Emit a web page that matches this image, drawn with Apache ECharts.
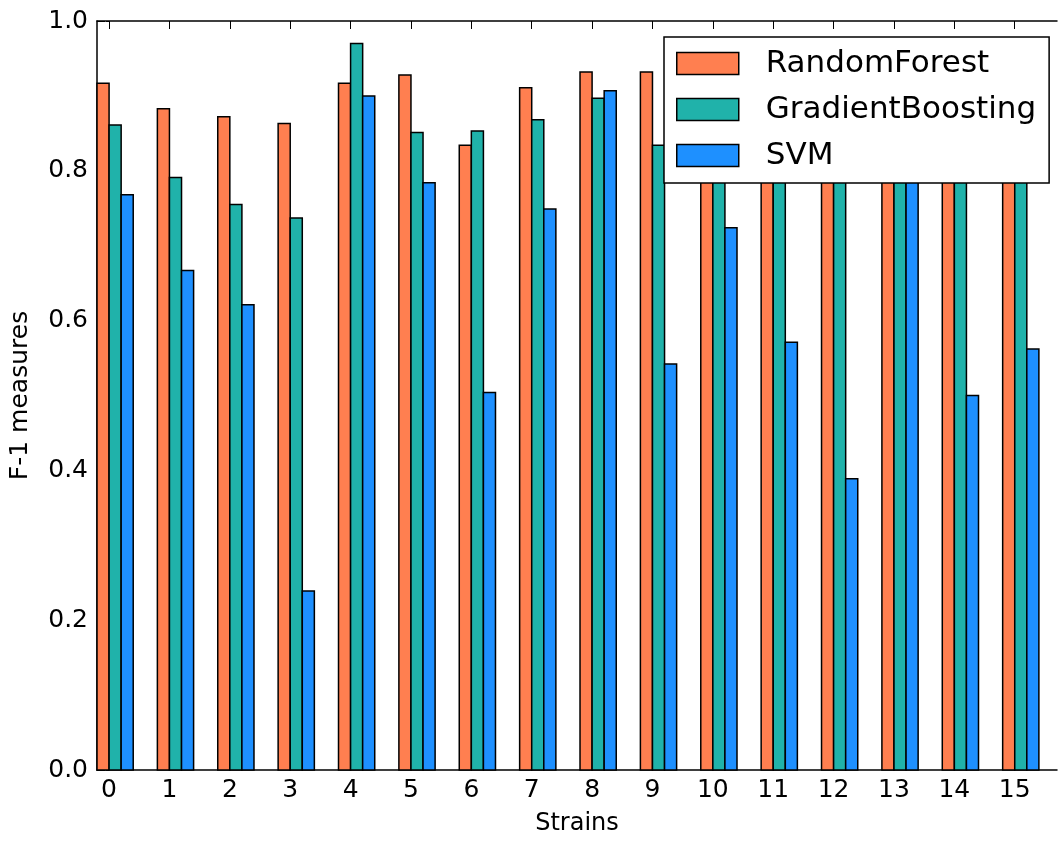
<!DOCTYPE html>
<html>
<head>
<meta charset="utf-8">
<script src="https://cdn.jsdelivr.net/npm/echarts@6/dist/echarts.min.js"></script>
<style>
html,body{margin:0;padding:0;background:#fff;}
#chart{width:1058px;height:844px;}
</style>
</head>
<body>
<div id="chart"></div>
<script>
// Data
const strains = ['0','1','2','3','4','5','6','7','8','9','10','11','12','13','14','15'];
const seriesNames = ['RandomForest', 'GradientBoosting', 'SVM'];
const randomForest =     [0.917, 0.883, 0.872, 0.863, 0.917, 0.928, 0.834, 0.911, 0.932, 0.932, 0.90, 0.91, 0.89, 0.93, 0.90, 0.91];
const gradientBoosting = [0.861, 0.791, 0.755, 0.737, 0.970, 0.851, 0.853, 0.868, 0.897, 0.834, 0.85, 0.88, 0.84, 0.90, 0.86, 0.87];
const svm =              [0.768, 0.667, 0.621, 0.239, 0.900, 0.784, 0.504, 0.749, 0.907, 0.542, 0.724, 0.571, 0.389, 0.88, 0.500, 0.562];
const yTicks = [0, 0.2, 0.4, 0.6, 0.8, 1.0];

const colors = ['#FF7F50', '#20B2AA', '#1E90FF'];
const offsets = [-0.2, 0, 0.2];
const barW = 0.2;
const FONT = 'DejaVu Sans';

function makeSeries(name, values, idx) {
  return {
    name: name,
    type: 'custom',
    xAxisIndex: 0,
    yAxisIndex: 0,
    itemStyle: { color: colors[idx], borderColor: '#000', borderWidth: 1.5 },
    data: strains.map((s, i) => [i, values[i]]),
    encode: { x: 0, y: 1 },
    renderItem: function (params, api) {
      const x0 = api.value(0) + offsets[idx];
      const p1 = api.coord([x0, api.value(1)]);
      const p2 = api.coord([x0 + barW, 0]);
      return {
        type: 'rect',
        shape: { x: p1[0], y: p1[1], width: p2[0] - p1[0], height: p2[1] - p1[1] },
        style: { fill: colors[idx], stroke: '#000', lineWidth: 1.5 }
      };
    },
    z: 2
  };
}

const tickVals = strains.map((s, i) => i);

const chart = echarts.init(document.getElementById('chart'), null, { renderer: 'canvas' });
chart.setOption({
  animation: false,
  backgroundColor: '#fff',
  textStyle: { fontFamily: FONT },
  grid: { left: 96, top: 21, right: 1, bottom: 74, containLabel: false },
  legend: {
    orient: 'vertical',
    left: 664,
    top: 37,
    data: seriesNames,
    icon: 'rect',
    itemWidth: 62,
    itemHeight: 22,
    itemGap: 15,
    padding: [11, 13, 12, 12],
    backgroundColor: '#fff',
    borderColor: '#000',
    borderWidth: 1.5,
    borderRadius: 0,
    itemStyle: { borderColor: '#000', borderWidth: 1.5 },
    textStyle: { fontFamily: FONT, fontSize: 31, color: '#000', padding: [0, 0, 0, 22] },
    z: 10
  },
  xAxis: [
    {
      type: 'value', position: 'bottom', min: -0.2, max: 15.7,
      name: 'Strains', nameLocation: 'middle', nameGap: 42,
      nameTextStyle: { fontFamily: FONT, fontSize: 24, color: '#000' },
      axisLine: { show: true, onZero: false, lineStyle: { color: '#000', width: 1.5 } },
      axisTick: { show: true, inside: true, length: 8, customValues: tickVals, lineStyle: { color: '#000', width: 1 } },
      axisLabel: { show: true, customValues: tickVals, formatter: v => strains[Math.round(v)], margin: 8, fontFamily: FONT, fontSize: 25, color: '#000' },
      splitLine: { show: false }
    },
    {
      type: 'value', position: 'top', min: -0.2, max: 15.7,
      axisLine: { show: true, onZero: false, lineStyle: { color: '#000', width: 1.5 } },
      axisTick: { show: true, inside: true, length: 8, customValues: tickVals, lineStyle: { color: '#000', width: 1 } },
      axisLabel: { show: false },
      splitLine: { show: false }
    }
  ],
  yAxis: [
    {
      type: 'value', position: 'left', min: 0, max: 1, interval: 0.2,
      name: 'F-1 measures', nameLocation: 'middle', nameGap: 64, nameRotate: 90,
      nameTextStyle: { fontFamily: FONT, fontSize: 25, color: '#000' },
      axisLine: { show: true, onZero: false, lineStyle: { color: '#000', width: 1.5 } },
      axisTick: { show: true, inside: true, length: 8, lineStyle: { color: '#000', width: 1 } },
      axisLabel: { show: true, margin: 9, formatter: v => v.toFixed(1), fontFamily: FONT, fontSize: 25, color: '#000' },
      splitLine: { show: false }
    },
    {
      type: 'value', position: 'right', min: 0, max: 1, interval: 0.2,
      axisLine: { show: false },
      axisTick: { show: true, inside: true, length: 3, lineStyle: { color: '#000', width: 1 } },
      axisLabel: { show: false },
      splitLine: { show: false }
    }
  ],
  series: [
    makeSeries(seriesNames[0], randomForest, 0),
    makeSeries(seriesNames[1], gradientBoosting, 1),
    makeSeries(seriesNames[2], svm, 2)
  ]
});
</script>
</body>
</html>
